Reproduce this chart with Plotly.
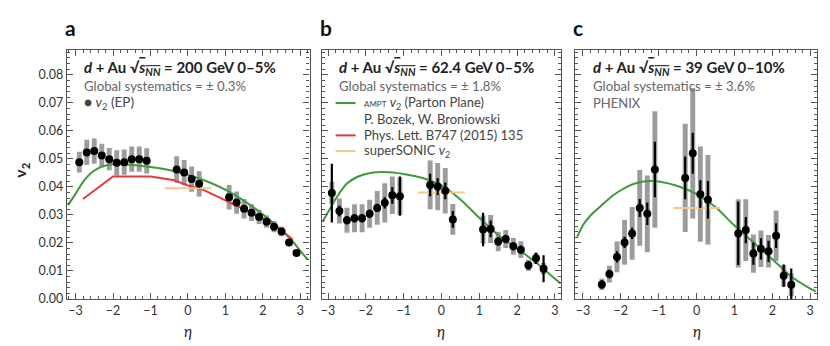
"""
plot.py — v2(eta) in d+Au at 200, 62.4 and 39 GeV (three panels)
"""

import plotly.graph_objects as go

W, H = 830, 346
FONT = "Lato"

# ─── Data: PHENIX points ─────────────────────────────────────

ETA_A = [-2.9, -2.7, -2.5, -2.3, -2.1, -1.9, -1.7, -1.5, -1.3, -1.1,
         -0.3, -0.1, 0.1, 0.3,
         1.1, 1.3, 1.5, 1.7, 1.9, 2.1, 2.3, 2.5, 2.7, 2.9]
V2_A = [0.0488, 0.0523, 0.0528, 0.0512, 0.0499, 0.0486, 0.0488, 0.0499, 0.0499, 0.0493,
        0.0462, 0.0451, 0.0428, 0.0411,
        0.0363, 0.0344, 0.0322, 0.0308, 0.0293, 0.0276, 0.0258, 0.0241, 0.0202, 0.0164]
STAT_A = [0.0010, 0.0010, 0.0010, 0.0010, 0.0010, 0.0010, 0.0010, 0.0010, 0.0010, 0.0010,
          0.0010, 0.0010, 0.0010, 0.0010,
          0.0010, 0.0010, 0.0010, 0.0010, 0.0010, 0.0010, 0.0010, 0.0010, 0.0010, 0.0010]
SYS_A = [0.0037, 0.0045, 0.0045, 0.0042, 0.0040, 0.0045, 0.0045, 0.0045, 0.0045, 0.0045,
         0.0047, 0.0045, 0.0045, 0.0045,
         0.0044, 0.0040, 0.0035, 0.0030, 0.0025, 0.0022, 0.0020, 0.0017, 0.0012, 0.0010]

ETA_B = [-2.9, -2.7, -2.5, -2.3, -2.1, -1.9, -1.7, -1.5, -1.3, -1.1,
         -0.3, -0.1, 0.1, 0.3,
         1.1, 1.3, 1.5, 1.7, 1.9, 2.1, 2.3, 2.5, 2.7]
V2_B = [0.0378, 0.0314, 0.0281, 0.0288, 0.0288, 0.0304, 0.0325, 0.0343, 0.0370, 0.0367,
        0.0407, 0.0401, 0.0386, 0.0284,
        0.0248, 0.0250, 0.0205, 0.0214, 0.0188, 0.0176, 0.0120, 0.0145, 0.0108]
STAT_B = [0.0105, 0.0020, 0.0015, 0.0015, 0.0015, 0.0015, 0.0015, 0.0020, 0.0030, 0.0070,
          0.0040, 0.0030, 0.0030, 0.0030,
          0.0060, 0.0030, 0.0015, 0.0015, 0.0015, 0.0015, 0.0015, 0.0020, 0.0048]
SYS_B = [0.0040, 0.0045, 0.0045, 0.0050, 0.0050, 0.0050, 0.0060, 0.0070, 0.0067, 0.0067,
         0.0087, 0.0084, 0.0081, 0.0055,
         0.0050, 0.0050, 0.0035, 0.0032, 0.0030, 0.0030, 0.0020, 0.0020, 0.0020]

ETA_C = [-2.5, -2.3, -2.1, -1.9, -1.7, -1.5, -1.3, -1.1,
         -0.3, -0.1, 0.1, 0.3,
         1.1, 1.3, 1.5, 1.7, 1.9, 2.1, 2.3, 2.5]
V2_C = [0.0052, 0.0089, 0.0150, 0.0202, 0.0234, 0.0325, 0.0304, 0.0462,
        0.0432, 0.0520, 0.0374, 0.0354,
        0.0234, 0.0246, 0.0162, 0.0179, 0.0170, 0.0226, 0.0083, 0.0051]
STAT_C = [0.0015, 0.0015, 0.0020, 0.0020, 0.0020, 0.0032, 0.0040, 0.0099,
          0.0076, 0.0073, 0.0050, 0.0067,
          0.0113, 0.0047, 0.0040, 0.0038, 0.0038, 0.0044, 0.0040, 0.0058]
SYS_C = [0.0020, 0.0030, 0.0055, 0.0080, 0.0094, 0.0135, 0.0137, 0.0208,
         0.0193, 0.0233, 0.0170, 0.0160,
         0.0122, 0.0110, 0.0068, 0.0065, 0.0058, 0.0090, 0.0038, 0.0040]

# ─── Data: model curves ───────────────────────────────────────

AMPT_ETA_A = [-3.2, -3.0, -2.8, -2.6, -2.4, -2.2, -2.0, -1.8, -1.6, -1.4, -1.2, -1.0,
              -0.5, 0.0, 0.5, 1.0, 1.5, 2.0, 2.5, 2.8, 3.0, 3.2]
AMPT_V2_A = [0.0335, 0.0375, 0.0418, 0.0448, 0.0466, 0.0476, 0.0481, 0.0481, 0.0479, 0.0477,
             0.0474, 0.0471, 0.0460, 0.0443, 0.0420, 0.0390, 0.0350, 0.0302, 0.0245, 0.0205,
             0.0172, 0.0140]

AMPT_ETA_B = [-3.15, -3.0, -2.8, -2.5, -2.2, -2.0, -1.8, -1.6, -1.4, -1.2, -1.0,
              -0.5, 0.0, 0.5, 1.0, 1.5, 2.0, 2.5, 3.0, 3.15]
AMPT_V2_B = [0.0275, 0.0310, 0.0357, 0.0412, 0.0437, 0.0446, 0.0451, 0.0453, 0.0452, 0.0450,
             0.0446, 0.0432, 0.0405, 0.0355, 0.0290, 0.0228, 0.0180, 0.0130, 0.0072, 0.0055]

AMPT_ETA_C = [-3.15, -3.0, -2.8, -2.5, -2.2, -2.0, -1.8, -1.6, -1.4, -1.2, -1.0,
              -0.5, 0.0, 0.5, 1.0, 1.5, 2.0, 2.5, 3.0, 3.15]
AMPT_V2_C = [0.0222, 0.0263, 0.0298, 0.0335, 0.0370, 0.0388, 0.0403, 0.0413, 0.0419, 0.0421,
             0.0419, 0.0403, 0.0374, 0.0328, 0.0262, 0.0202, 0.0142, 0.0080, 0.0037, 0.0027]

BOZEK_ETA_A = [-2.8, -2.0, -1.0, -0.4, 0.0, 0.4, 1.0, 1.6, 2.0, 2.4, 2.8]
BOZEK_V2_A = [0.0357, 0.0437, 0.0437, 0.0425, 0.0405, 0.0390, 0.0352, 0.0315, 0.0288, 0.0255, 0.0212]

SONIC_ETA = [-0.62, 0.62]
SONIC_V2_A = [0.0395, 0.0395]
SONIC_V2_B = [0.0380, 0.0380]
SONIC_V2_C = [0.0325, 0.0325]

# ─── Style ────────────────────────────────────────────────────

GREEN = "#3c9a3c"
RED = "#e23a3a"
ORANGE = "#f6c690"
GRAY_BOX = "#9c9c9c"
AXIS_COL = "#555555"

# panel pixel boxes: (left, right, xrange)
PANELS = [
    (58, 301, [-3.23, 3.25]),
    (313, 553, [-3.17, 3.17]),
    (567, 809, [-3.2, 3.18]),
]
Y_TOP, Y_BOT = 43, 297
Y_RANGE = [0, 0.0888]


def px(x):
    return x / W


def py(y):
    return 1 - y / H


def add_panel(fig, n, eta, v2, stat, sys, ampt_eta, ampt_v2, sonic_v2,
              bozek_eta=None, bozek_v2=None):
    xa = "x" if n == 1 else f"x{n}"
    ya = "y" if n == 1 else f"y{n}"

    fig.add_trace(go.Bar(
        x=eta, y=[2 * s for s in sys], base=[v - s for v, s in zip(v2, sys)],
        width=0.13, marker=dict(color=GRAY_BOX, line=dict(width=0)),
        xaxis=xa, yaxis=ya, showlegend=False, hoverinfo="skip",
    ))
    fig.add_trace(go.Scatter(
        x=ampt_eta, y=ampt_v2, mode="lines",
        line=dict(color=GREEN, width=2, shape="spline", smoothing=0.6),
        xaxis=xa, yaxis=ya, showlegend=False,
    ))
    if bozek_eta is not None:
        fig.add_trace(go.Scatter(
            x=bozek_eta, y=bozek_v2, mode="lines",
            line=dict(color=RED, width=2),
            xaxis=xa, yaxis=ya, showlegend=False,
        ))
    fig.add_trace(go.Scatter(
        x=SONIC_ETA, y=sonic_v2, mode="lines",
        line=dict(color=ORANGE, width=2),
        xaxis=xa, yaxis=ya, showlegend=False,
    ))
    fig.add_trace(go.Scatter(
        x=eta, y=v2, mode="markers",
        marker=dict(color="black", size=8),
        error_y=dict(type="data", array=stat, color="black", thickness=2.2, width=0),
        xaxis=xa, yaxis=ya, showlegend=False,
    ))


fig = go.Figure()
add_panel(fig, 1, ETA_A, V2_A, STAT_A, SYS_A, AMPT_ETA_A, AMPT_V2_A, SONIC_V2_A,
          BOZEK_ETA_A, BOZEK_V2_A)
add_panel(fig, 2, ETA_B, V2_B, STAT_B, SYS_B, AMPT_ETA_B, AMPT_V2_B, SONIC_V2_B)
add_panel(fig, 3, ETA_C, V2_C, STAT_C, SYS_C, AMPT_ETA_C, AMPT_V2_C, SONIC_V2_C)

axis_common = dict(
    showline=True, linecolor=AXIS_COL, linewidth=1.3, mirror="allticks",
    ticks="inside", ticklen=6, tickwidth=1.1, tickcolor=AXIS_COL,
    showgrid=False, zeroline=False,
    tickfont=dict(family=FONT, size=12.5, color="#333333"),
)

layout = dict(
    width=W, height=H,
    margin=dict(l=0, r=0, t=0, b=0),
    paper_bgcolor="white", plot_bgcolor="white",
    barmode="overlay",
    font=dict(family=FONT, color="#222222"),
)

for i, (left, right, xr) in enumerate(PANELS, start=1):
    sx = "" if i == 1 else str(i)
    layout[f"xaxis{sx}"] = dict(
        **axis_common, domain=[px(left), px(right)], range=xr,
        anchor=f"y{sx}", tickvals=[-3, -2, -1, 0, 1, 2, 3],
        ticktext=["\u22123", "\u22122", "\u22121", "0", "1", "2", "3"],
        minor=dict(dtick=0.2, tick0=0, ticks="inside", ticklen=3, tickcolor=AXIS_COL),
    )
    layout[f"yaxis{sx}"] = dict(
        **axis_common, domain=[py(Y_BOT), py(Y_TOP)], range=Y_RANGE,
        anchor=f"x{sx}", dtick=0.01, tickformat=".2f",
        showticklabels=(i == 1),
        minor=dict(dtick=0.002, tick0=0, ticks="inside", ticklen=3, tickcolor=AXIS_COL),
    )

fig.update_layout(**layout)

# ─── Text ─────────────────────────────────────────────────────

def text(x, y, s, size=12.5, color="#222222", xanchor="left", **kw):
    fig.add_annotation(
        x=px(x), y=py(y), xref="paper", yref="paper", text=s, showarrow=False,
        xanchor=xanchor, yanchor="middle", font=dict(family=FONT, size=size, color=color),
        borderpad=0, **kw,
    )


SQRT_S = "\u221a<span style='text-decoration:overline'><i>s</i><sub><i>NN</i></sub></span>"
HEADERS = [
    f"<b><i>d</i> + Au {SQRT_S} = 200 GeV 0\u20135%</b>",
    f"<b><i>d</i> + Au {SQRT_S} = 62.4 GeV 0\u20135%</b>",
    f"<b><i>d</i> + Au {SQRT_S} = 39 GeV 0\u201310%</b>",
]
SYSTEMATICS = ["Global systematics = \u00b1 0.3%",
               "Global systematics = \u00b1 1.8%",
               "Global systematics = \u00b1 3.6%"]
HEAD_X = [74, 329, 584]
LABEL_X = [55, 310, 564]
ETA0_X = [179, 433, 689]

for i in range(3):
    text(LABEL_X[i], 20, f"<b>{'abc'[i]}</b>", size=21, color="#111111")
    text(HEAD_X[i], 61, HEADERS[i], size=15, color="#222222")
    text(HEAD_X[i], 80, SYSTEMATICS[i], size=13.2, color="#666666")
    text(ETA0_X[i], 330, "<i>\u03b7</i>", size=15, color="#222222", xanchor="center")

text(74, 97, "\u25cf <i>v</i><sub>2</sub> (EP)", size=13.5, color="#444444")
text(584, 97, "PHENIX", size=13, color="#666666")

legend_rows = [
    (97, GREEN, "<span style='font-size:8px'>AMPT</span> <i>v</i><sub>2</sub> (Parton Plane)"),
    (113, None, "P. Bozek, W. Broniowski"),
    (130, RED, "Phys. Lett. B747 (2015) 135"),
    (146, ORANGE, "superSONIC <i>v</i><sub>2</sub>"),
]
for y, col, label in legend_rows:
    if col:
        fig.add_shape(type="line", xref="paper", yref="paper",
                      x0=px(327), x1=px(347), y0=py(y), y1=py(y),
                      line=dict(color=col, width=2))
    text(354, y, label, size=13, color="#444444")

text(12, 165, "<b>v<sub>2</sub></b>", size=16, color="#222222", xanchor="center", textangle=-90)

fig.write_html("out.html")
